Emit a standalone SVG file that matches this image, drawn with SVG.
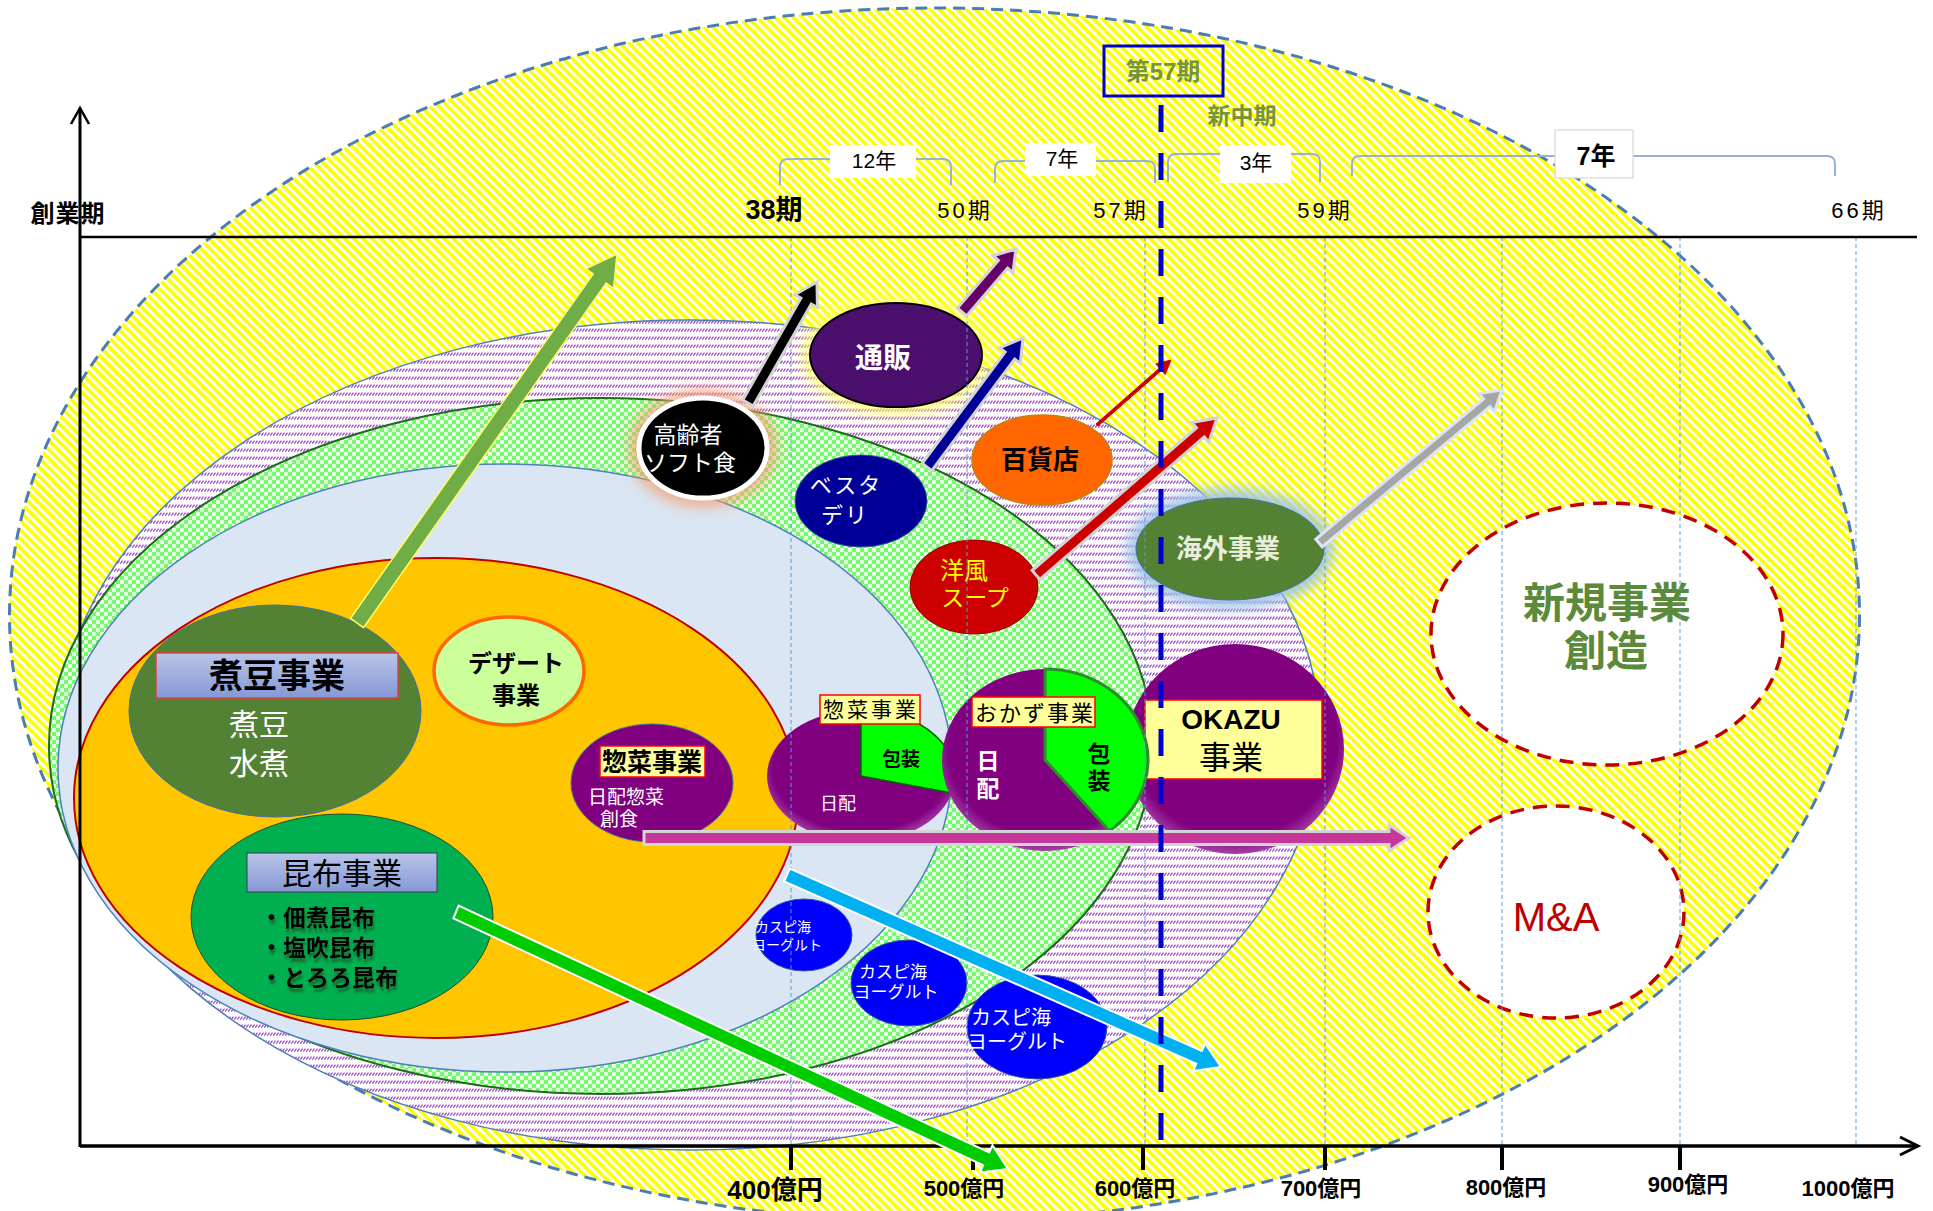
<svg xmlns="http://www.w3.org/2000/svg" width="1933" height="1211" viewBox="0 0 1933 1211">
<style>
text{font-family:"Liberation Sans","Noto Sans CJK JP",sans-serif;}
.c{text-anchor:middle;dominant-baseline:central;}
.b{font-weight:bold;}
.w{fill:#fff;}
.grid{stroke:#5B9BD5;stroke-width:1;stroke-dasharray:4 3;}
.brk{fill:none;stroke:#95B3D7;stroke-width:2;}
.tick{stroke:#000;stroke-width:4;}
.ax{font-size:22px;font-weight:bold;}
.per{font-size:22px;letter-spacing:3px;}
.lbl{fill:#FFFF99;stroke:#FF0000;stroke-width:1.5;}
.arr{stroke:#D4D4D4;stroke-width:3;stroke-linejoin:miter;}
.kasp{fill:#0000FF;stroke:#2F5597;stroke-width:1;}
</style>
<defs>
<pattern id="yel" width="6.4" height="6.4" patternUnits="userSpaceOnUse" patternTransform="rotate(45)">
<rect width="6.4" height="6.4" fill="#fff"/><rect width="6.4" height="3.6" fill="#FFFF00"/>
</pattern>
<pattern id="pur" width="3" height="8" patternUnits="userSpaceOnUse">
<rect width="3" height="8" fill="#fff"/><path d="M0.3,3.6 L2.5,0.6" stroke="#A03CC8" stroke-width="1.2"/>
</pattern>
<pattern id="chk" width="8" height="8" patternUnits="userSpaceOnUse">
<rect width="8" height="8" fill="#E4FFE0"/><rect width="4" height="4" fill="#78F870"/><rect x="4" y="4" width="4" height="4" fill="#78F870"/>
</pattern>
<linearGradient id="lav" x1="0" y1="0" x2="0" y2="1">
<stop offset="0" stop-color="#BAC5E8"/><stop offset="1" stop-color="#8598D6"/>
</linearGradient>
<radialGradient id="purg" cx="0.5" cy="0.45" r="0.55">
<stop offset="0.85" stop-color="#800080"/><stop offset="1" stop-color="#A640A6"/>
</radialGradient>
<filter id="blur" x="-30%" y="-30%" width="160%" height="160%"><feGaussianBlur stdDeviation="7"/></filter>
<filter id="sh" x="-10%" y="-20%" width="120%" height="160%"><feDropShadow dx="1" dy="4" stdDeviation="1" flood-color="#1E5A2A" flood-opacity="0.75"/></filter>
</defs>

<!-- background zones -->
<g id="zones">
<ellipse cx="934.5" cy="615" rx="925" ry="607" fill="url(#yel)" stroke="#4A7DB5" stroke-width="3" stroke-dasharray="12 7"/>
<ellipse cx="690" cy="735" rx="630" ry="415" fill="url(#pur)" stroke="#4F81BD" stroke-width="1.5"/>
<ellipse cx="601" cy="746" rx="552" ry="348" fill="url(#chk)" stroke="#1E6B1E" stroke-width="2"/>
<ellipse cx="505" cy="768" rx="447" ry="304" fill="#DAE6F3" stroke="#4F81BD" stroke-width="1.5"/>
<ellipse cx="436" cy="798" rx="362" ry="240" fill="#FFC600" stroke="#C00000" stroke-width="2"/>
</g>

<!-- nodes -->
<g id="node-nimame">
<ellipse cx="275" cy="711" rx="146" ry="106" fill="#548235" stroke="#41719C" stroke-width="1"/>
<rect x="156" y="653" width="242" height="45" fill="url(#lav)" stroke="#E04040" stroke-width="1.5"/>
<text x="277" y="676" class="c b" font-size="34">煮豆事業</text>
<text x="259" y="724" class="c w" font-size="30">煮豆</text>
<text x="259" y="763" class="c w" font-size="30">水煮</text>
</g>
<g id="node-konbu">
<ellipse cx="342" cy="917" rx="151" ry="103" fill="#00AF50" stroke="#1F4F2F" stroke-width="1"/>
<rect x="247" y="853" width="190" height="39" fill="url(#lav)" stroke="#3A3A50" stroke-width="1"/>
<text x="342" y="873" class="c" font-size="30">昆布事業</text>
<g font-size="23" font-weight="bold" filter="url(#sh)">
<text x="260" y="918" dominant-baseline="central">・佃煮昆布</text>
<text x="260" y="948" dominant-baseline="central">・塩吹昆布</text>
<text x="260" y="978" dominant-baseline="central">・とろろ昆布</text>
</g>
</g>
<g id="node-dessert">
<ellipse cx="509" cy="671" rx="75" ry="54" fill="#CCFF99" stroke="#FF6600" stroke-width="3.5"/>
<text x="516" y="663" class="c b" font-size="24">デザート</text>
<text x="516" y="695" class="c b" font-size="24">事業</text>
</g>
<g id="node-souzai1">
<ellipse cx="652" cy="783" rx="81" ry="59" fill="#800080" stroke="#41719C" stroke-width="1"/>
<rect x="600" y="746" width="105" height="31" class="lbl"/>
<text x="652" y="762" class="c b" font-size="25">惣菜事業</text>
<text x="588" y="797" class="w" font-size="19" dominant-baseline="central">日配惣菜</text>
<text x="600" y="819" class="w" font-size="19" dominant-baseline="central">創食</text>
</g>
<g id="node-okazu-biz">
<ellipse cx="1235" cy="749" rx="109" ry="105" fill="url(#purg)"/>
<rect x="1145" y="700" width="177" height="79" class="lbl"/>
<text x="1231" y="719" class="c b" font-size="28">OKAZU</text>
<text x="1231" y="758" class="c" font-size="32">事業</text>
</g>
<g id="node-souzai2">
<ellipse cx="861" cy="776" rx="94" ry="66" fill="url(#purg)"/>
<path d="M861,776 L861,710 A94,66 0 0,1 951.8,793.1 Z" fill="#00FF00" stroke="#006600" stroke-width="1.5"/>
<rect x="820" y="695" width="100" height="29" class="lbl"/>
<text x="871" y="709" class="c" font-size="21" letter-spacing="3">惣菜事業</text>
<text x="901" y="759" class="c b" font-size="19">包装</text>
<text x="838" y="804" class="c w" font-size="18">日配</text>
</g>
<g id="node-okazu">
<ellipse cx="1045" cy="760" rx="103" ry="91" fill="url(#purg)"/>
<path d="M1045,760 L1045,669 A103,91 0 0,1 1109.5,830.9 Z" fill="#00FF00" stroke="#2E8B2E" stroke-width="3"/>
<rect x="972" y="697" width="123" height="30" class="lbl"/>
<text x="1035" y="713" class="c" font-size="22" letter-spacing="2">おかず事業</text>
<text x="1099" y="754" class="c b" font-size="23">包</text>
<text x="1099" y="781" class="c b" font-size="23">装</text>
<text x="988" y="761" class="c b w" font-size="23">日</text>
<text x="988" y="789" class="c b w" font-size="23">配</text>
</g>
<g id="node-tsuhan">
<ellipse cx="896" cy="355" rx="94" ry="60" fill="#FFFF66" opacity="0.8" filter="url(#blur)"/>
<ellipse cx="896" cy="355" rx="86" ry="52" fill="#4B0F6E" stroke="#000" stroke-width="2"/>
<text x="883" y="358" class="c b w" font-size="28">通販</text>
</g>
<g id="node-koureisha">
<ellipse cx="703" cy="448" rx="74" ry="59" fill="#F4A070" opacity="0.8" filter="url(#blur)"/>
<ellipse cx="703" cy="448" rx="64" ry="50" fill="#000" stroke="#fff" stroke-width="5"/>
<text x="688" y="435" class="c w" font-size="23">高齢者</text>
<text x="690" y="463" class="c w" font-size="23">ソフト食</text>
</g>
<g id="node-vesta">
<ellipse cx="861" cy="501" rx="66" ry="46" fill="#000099" stroke="#2F5597" stroke-width="1"/>
<text x="846" y="485" class="c w" font-size="22" letter-spacing="2">ベスタ</text>
<text x="845" y="515" class="c w" font-size="22" letter-spacing="2">デリ</text>
</g>
<g id="node-hyakkaten">
<ellipse cx="1042" cy="460" rx="70" ry="45" fill="#FF6600" stroke="#B8860B" stroke-width="1.5"/>
<text x="1040" y="460" class="c b" font-size="26">百貨店</text>
</g>
<g id="node-soup">
<ellipse cx="974" cy="587" rx="64" ry="47" fill="#CC0000" stroke="#A00000" stroke-width="1"/>
<text x="964" y="570" class="c" font-size="24" fill="#FFFF00">洋風</text>
<text x="975" y="598" class="c" font-size="23" fill="#FFFF00">スープ</text>
</g>
<g id="node-kaigai">
<ellipse cx="1230" cy="549" rx="104" ry="61" fill="#9DC3E6" opacity="0.9" filter="url(#blur)"/>
<ellipse cx="1230" cy="549" rx="94" ry="51" fill="#548235" stroke="#41719C" stroke-width="1"/>
<text x="1228" y="549" class="c b" font-size="26" fill="#E8EEDC">海外事業</text>
</g>
<g id="node-caspian1">
<ellipse cx="804" cy="935" rx="48" ry="36" class="kasp"/>
<text x="783" y="927" class="c w" font-size="14">カスピ海</text>
<text x="787" y="945" class="c w" font-size="14">ヨーグルト</text>
</g>
<g id="node-caspian2">
<ellipse cx="909" cy="983" rx="58" ry="43" class="kasp"/>
<text x="893" y="972" class="c w" font-size="17">カスピ海</text>
<text x="896" y="992" class="c w" font-size="17">ヨーグルト</text>
</g>
<g id="node-caspian3">
<ellipse cx="1037" cy="1027" rx="70" ry="52" class="kasp"/>
<text x="1011" y="1018" class="c w" font-size="20">カスピ海</text>
<text x="1017" y="1042" class="c w" font-size="20">ヨーグルト</text>
</g>
<g id="node-shinki">
<ellipse cx="1607" cy="634" rx="176" ry="131" fill="#fff" stroke="#C00000" stroke-width="3.5" stroke-dasharray="14 9"/>
<text x="1607" y="603" class="c b" font-size="42" fill="#5A8A3A">新規事業</text>
<text x="1606" y="651" class="c b" font-size="42" fill="#5A8A3A">創造</text>
</g>
<g id="node-ma">
<ellipse cx="1556" cy="912" rx="128" ry="106" fill="#fff" stroke="#C00000" stroke-width="3.5" stroke-dasharray="14 9"/>
<text x="1556" y="917" class="c" font-size="40" fill="#C00000">M&amp;A</text>
</g>

<!-- grid -->
<g id="gridlines">
<line x1="791" y1="237" x2="791" y2="1146" class="grid"/>
<line x1="967" y1="237" x2="967" y2="1146" class="grid"/>
<line x1="1145" y1="237" x2="1145" y2="1146" class="grid"/>
<line x1="1325" y1="237" x2="1325" y2="1146" class="grid"/>
<line x1="1502" y1="237" x2="1502" y2="1146" class="grid"/>
<line x1="1680" y1="237" x2="1680" y2="1146" class="grid"/>
<line x1="1856" y1="237" x2="1856" y2="1146" class="grid"/>
</g>

<!-- axes -->
<g id="axes">
<line x1="80" y1="108" x2="80" y2="1147" stroke="#000" stroke-width="3"/>
<path d="M71,124 L80,108 L89,124" fill="none" stroke="#000" stroke-width="2.5"/>
<line x1="80" y1="1146" x2="1917" y2="1146" stroke="#000" stroke-width="3.5"/>
<path d="M1900,1137 L1918,1146 L1900,1155" fill="none" stroke="#000" stroke-width="3"/>
<line x1="80" y1="237" x2="1917" y2="237" stroke="#000" stroke-width="2.5"/>
<line x1="791" y1="1146" x2="791" y2="1170" class="tick"/>
<line x1="973" y1="1146" x2="973" y2="1170" class="tick"/>
<line x1="1143" y1="1146" x2="1143" y2="1170" class="tick"/>
<line x1="1325" y1="1146" x2="1325" y2="1170" class="tick"/>
<line x1="1502" y1="1146" x2="1502" y2="1170" class="tick"/>
<line x1="1680" y1="1146" x2="1680" y2="1170" class="tick"/>
<text x="775" y="1190" class="c b" font-size="26">400億円</text>
<text x="964" y="1188" class="c ax">500億円</text>
<text x="1135" y="1188" class="c ax">600億円</text>
<text x="1321" y="1188" class="c ax">700億円</text>
<text x="1506" y="1187" class="c ax">800億円</text>
<text x="1688" y="1184" class="c ax">900億円</text>
<text x="1848" y="1188" class="c ax">1000億円</text>
<text x="68" y="213" class="c b" font-size="24" letter-spacing="1">創業期</text>
<text x="774" y="210" class="c b" font-size="27">38期</text>
<text x="965" y="210" class="c per">50期</text>
<text x="1121" y="210" class="c per">57期</text>
<text x="1325" y="210" class="c per">59期</text>
<text x="1859" y="210" class="c per">66期</text>
<path d="M780,185 L780,167 Q780,159 788,159 L943,159 Q951,159 951,167 L951,185" class="brk"/>
<path d="M995,183 L995,169 Q995,161 1003,161 L1147,161 Q1155,161 1155,169 L1155,183" class="brk"/>
<path d="M1168,182 L1168,162 Q1168,154 1176,154 L1312,154 Q1320,154 1320,162 L1320,182" class="brk"/>
<path d="M1352,176 L1352,164 Q1352,156 1360,156 L1827,156 Q1835,156 1835,164 L1835,176" class="brk"/>
<rect x="830" y="145" width="86" height="33" fill="#fff"/>
<rect x="1025" y="143" width="71" height="33" fill="#fff"/>
<rect x="1220" y="145" width="71" height="38" fill="#fff"/>
<rect x="1555" y="130" width="78" height="48" fill="#fff" stroke="#D0D0D0" stroke-width="1"/>
<text x="874" y="160" class="c" font-size="21">12年</text>
<text x="1062" y="158" class="c" font-size="21">7年</text>
<text x="1256" y="162" class="c" font-size="21">3年</text>
<text x="1596" y="156" class="c b" font-size="25">7年</text>
</g>

<!-- connectors -->
<g id="connectors">
<polygon points="363.5,627.6 606.2,283.1 613.6,288.3 617,254 585.8,268.7 593.2,273.9 350.5,618.4" fill="#70AD47" stroke="#FFFF66" stroke-width="1.5"/>
<polygon points="753.2,406 811.3,304.1 817.4,307.5 817,282 794.8,294.7 800.9,298.1 742.8,400" fill="#000" class="arr"/>
<polygon points="966.6,315.9 1007.6,268.1 1012.9,272.7 1016,249 993.1,255.7 998.4,260.3 957.4,308.1" fill="#660066" class="arr"/>
<polygon points="931.8,470.6 1014.7,359.2 1020.3,363.4 1023,338 999.5,347.8 1005.1,352 922.2,463.4" fill="#000099" class="arr"/>
<polygon points="1098,426.1 1161.5,370.3 1165.1,374.5 1171,360 1155.9,363.9 1159.5,368.1 1096,423.9" fill="#CC0000" stroke="#CC0000" stroke-width="1"/>
<polygon points="1039.9,579.5 1204.3,436.9 1208.9,442.2 1217,418 1191.9,422.6 1196.5,427.9 1032.1,570.5" fill="#CC0000" class="arr"/>
<polygon points="1322.2,546.8 1489.9,406.6 1494.4,412 1502,390 1479,393.6 1483.5,399 1315.8,539.2" fill="#A6A6A6" stroke="#DCE6F2" stroke-width="3"/>
<polygon points="644,831.5 1389,831.5 1389,825 1409,838 1389,851 1389,844.5 644,844.5" fill="#C7379A" class="arr"/>
<polygon points="784.2,881.4 1196.3,1063.7 1193,1071 1221,1067 1205.2,1043.6 1201.9,1050.9 789.8,868.6" fill="#00B0F0" stroke="#fff" stroke-width="2"/>
<polygon points="453.4,918.3 983.2,1165.3 979.9,1172.5 1008,1169 992.5,1145.3 989.2,1152.5 458.6,905.7" fill="#00CC00" stroke="#fff" stroke-width="2"/>
</g>

<!-- 57th period marker -->
<g id="period57">
<line x1="1161" y1="105" x2="1161" y2="1155" stroke="#0000CC" stroke-width="5" stroke-dasharray="27 21"/>
<rect x="1104" y="46" width="119" height="50" fill="none" stroke="#0000CC" stroke-width="3"/>
<text x="1163" y="71" class="c b" font-size="24" fill="#77933C">第57期</text>
<text x="1242" y="116" class="c b" font-size="23" fill="#77933C">新中期</text>
</g>
</svg>
